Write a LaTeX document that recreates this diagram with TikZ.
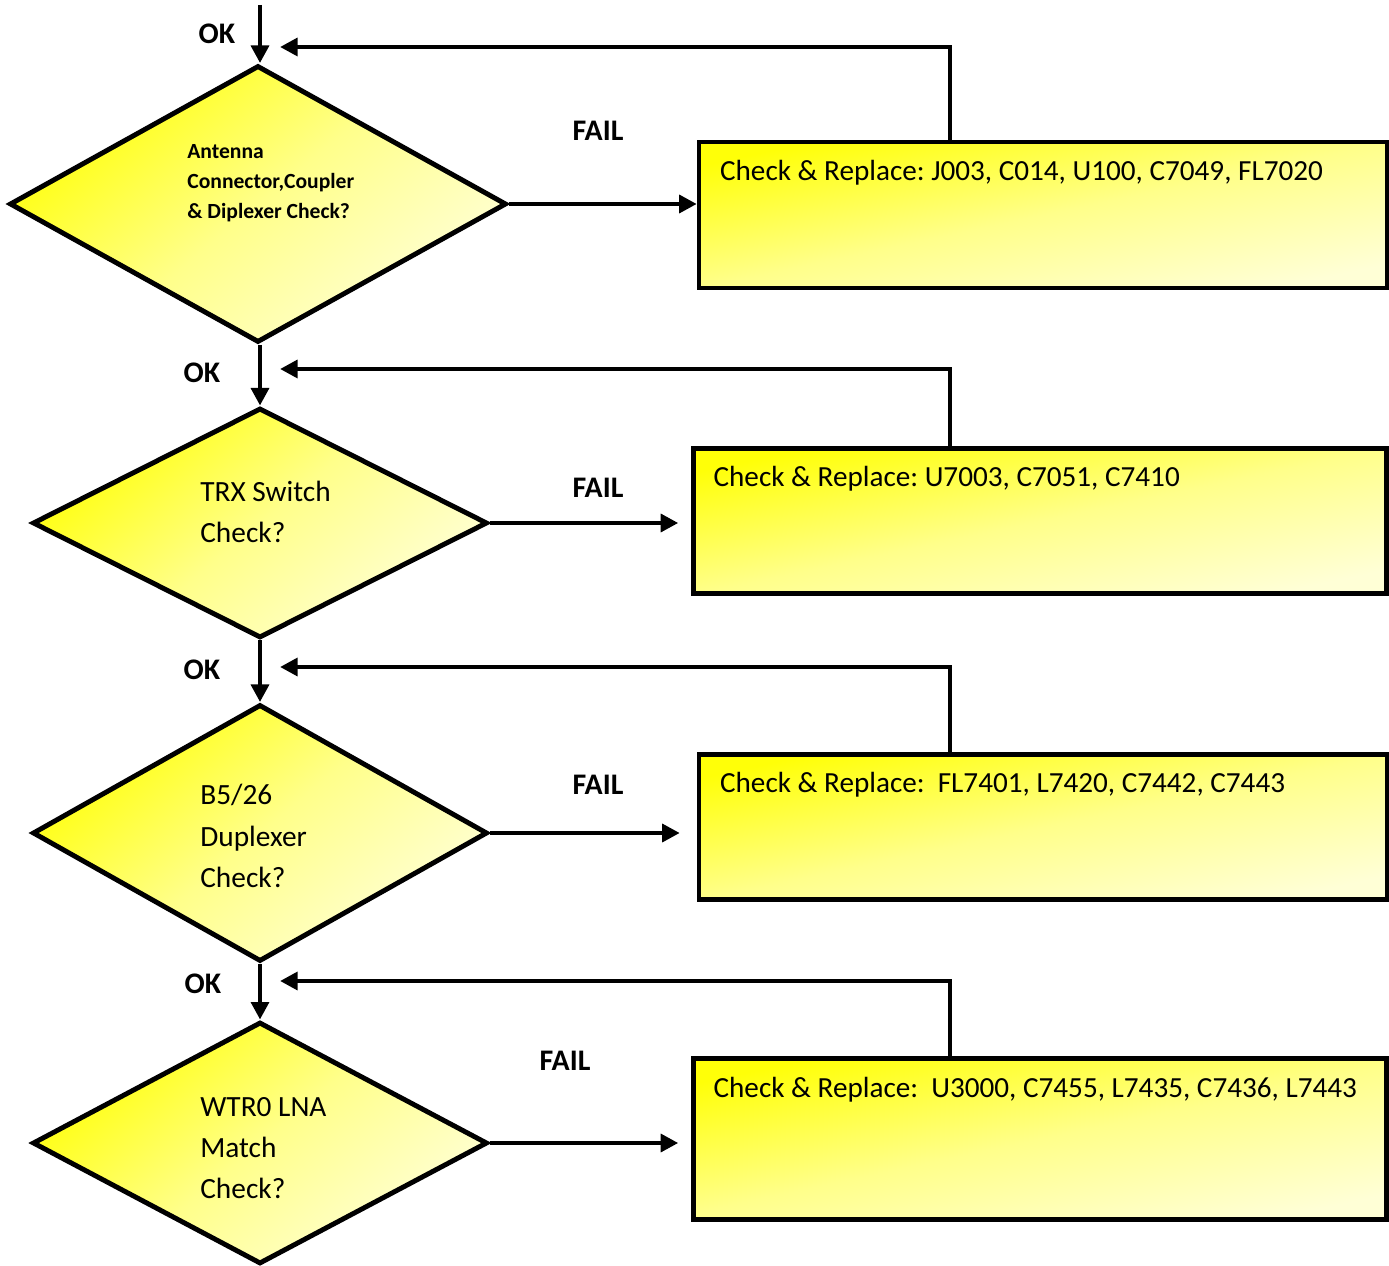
\documentclass[tikz,border=0pt]{standalone}
\usepackage{fontspec}
\setmainfont{Carlito}
\usepackage{tikz}
\usetikzlibrary{shapes.geometric, arrows.meta, positioning, calc}
\definecolor{hotyellow}{HTML}{FFFF08}
\definecolor{midyellow}{HTML}{FFFF8A}
\definecolor{paleyellow}{HTML}{FFFFD6}
\tikzstyle{check} = [diamond, draw=black, line width=2.8pt, inner sep=0pt,
  top color=hotyellow, bottom color=paleyellow, middle color=midyellow, shading angle=40]
\tikzstyle{fixbox} = [rectangle, draw=black, line width=2.6pt, inner sep=0pt,
  top color=hotyellow, bottom color=paleyellow, middle color=midyellow, shading angle=12]
\tikzstyle{arrow} = [line width=2.8pt, -{Triangle[length=10pt, width=10pt]}]
\tikzstyle{fixtext} = [font=\fontsize{16.6}{19}\selectfont, inner sep=0pt]
\tikzstyle{asktext} = [font=\fontsize{16.7}{23.5}\selectfont, align=left, inner sep=0pt, anchor=west]
\tikzstyle{tag} = [font=\fontsize{17}{19}\selectfont\bfseries, inner sep=0pt]

\begin{document}
\frenchspacing
\begin{tikzpicture}[x=0.02cm, y=-0.02cm]
  \useasboundingbox (0,0) rectangle (1389,1266);

  % checks
  \node (d1) [check, minimum width=9.94cm, minimum height=5.54cm] at (258,204) {};
  \node (d2) [check, minimum width=9.1cm, minimum height=4.6cm] at (260,523) {};
  \node (d3) [check, minimum width=9.1cm, minimum height=5.14cm] at (260,833) {};
  \node (d4) [check, minimum width=9.1cm, minimum height=4.84cm] at (260,1143) {};

  \node (q1) [asktext, font=\fontsize{12.3}{17}\selectfont\bfseries] at (187,183)
    {Antenna\\Connector,Coupler\\\& Diplexer Check?};
  \node (q2) [asktext] at (200,512) {TRX Switch\\Check?};
  \node (q3) [asktext] at (200,836) {B5/26\\Duplexer\\Check?};
  \node (q4) [asktext] at (200,1148) {WTR0 LNA\\Match\\Check?};

  % repair boxes
  \node (b1) [fixbox, minimum width=13.76cm, minimum height=2.92cm] at (1043,215) {};
  \node (b2) [fixbox, minimum width=13.86cm, minimum height=2.9cm] at (1040,521) {};
  \node (b3) [fixbox, minimum width=13.76cm, minimum height=2.9cm] at (1043,827) {};
  \node (b4) [fixbox, minimum width=13.86cm, minimum height=3.22cm] at (1040,1139) {};

  \node (t1) [fixtext, below right=0.4cm and 0.46cm of b1.north west]
    {Check \& Replace: J003, C014, U100, C7049, FL7020};
  \node (t2) [fixtext, below right=0.4cm and 0.44cm of b2.north west]
    {Check \& Replace: U7003, C7051, C7410};
  \node (t3) [fixtext, below right=0.4cm and 0.46cm of b3.north west]
    {Check \& Replace:\ \ FL7401, L7420, C7442, C7443};
  \node (t4) [fixtext, below right=0.42cm and 0.44cm of b4.north west]
    {Check \& Replace:\ \ U3000, C7455, L7435, C7436, L7443};

  % labels
  \node (ok1) [tag] at (217,34) {OK};
  \node (ok2) [tag] at (202,373) {OK};
  \node (ok3) [tag] at (202,670) {OK};
  \node (ok4) [tag] at (203,984) {OK};
  \node (f1) [tag] at (598,131) {FAIL};
  \node (f2) [tag] at (598,488) {FAIL};
  \node (f3) [tag] at (598,785) {FAIL};
  \node (f4) [tag] at (565,1061) {FAIL};

  % flow
  \coordinate (start) at (260,5);
  \coordinate (fb) at (950,0);
  \coordinate (r1) at (280,47);
  \coordinate (r2) at (280,369);
  \coordinate (r3) at (280,667);
  \coordinate (r4) at (280,981);

  \draw[arrow] (start) -- (start |- d1.north);
  \draw[arrow] (d1.south -| start) -- (d2.north);
  \draw[arrow] (d2.south) -- (d3.north);
  \draw[arrow] (d3.south) -- (d4.north);

  \draw[arrow] (d1.east) -- (d1.east -| b1.west);
  \draw[arrow, shorten >=0.26cm] (d2.east) -- (d2.east -| b2.west);
  \draw[arrow, shorten >=0.34cm] (d3.east) -- (d3.east -| b3.west);
  \draw[arrow, shorten >=0.26cm] (d4.east) -- (d4.east -| b4.west);

  \draw[arrow] (b1.north -| fb) |- (r1);
  \draw[arrow] (b2.north -| fb) |- (r2);
  \draw[arrow] (b3.north -| fb) |- (r3);
  \draw[arrow] (b4.north -| fb) |- (r4);
\end{tikzpicture}
\end{document}
